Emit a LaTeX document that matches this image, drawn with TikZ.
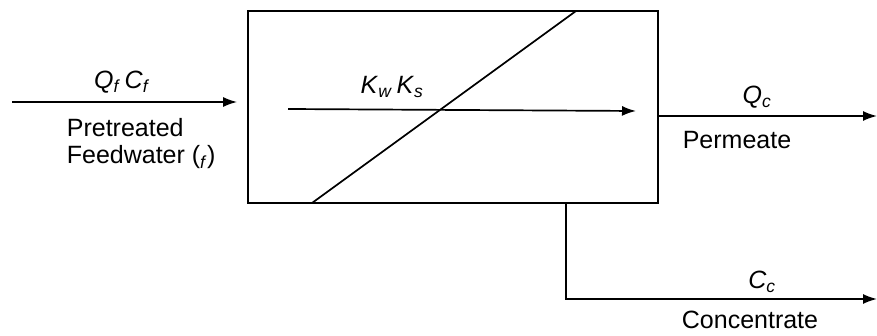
\documentclass[tikz,border=0pt]{standalone}
\usepackage{fontspec}
\setmainfont{Liberation Sans}
\usetikzlibrary{arrows.meta,positioning}
\newcommand{\flowvar}[2]{\textit{#1}\textsubscript{\textit{#2}}}

\begin{document}
\begin{tikzpicture}[x=1pt,y=-1pt,
  line width=1.7pt,
  flow/.style={-{Latex[length=14pt,width=10pt]}},
  lbl/.style={font=\fontsize{25}{27}\selectfont,inner sep=2pt},
  txt/.style={lbl,align=left}]
  \useasboundingbox (0,0) rectangle (877,336);
  % membrane unit
  \node[draw,minimum width=410pt,minimum height=192pt,inner sep=0pt] (unit) at (453,107) {};
  \coordinate (mbot) at (312,203);
  \coordinate (mtop) at (576,11);
  \draw (mbot) -- (mtop);
  % feed
  \coordinate (feedin) at (12,102);
  \draw[flow,shorten >=10pt] (feedin) -- (feedin -| unit.west);
  \node[lbl] (qfcf) at (122,82) {\flowvar{Q}{f}\,\flowvar{C}{f}};
  \node[txt,anchor=north west] (feedtxt) at (64,116) {Pretreated\\Feedwater (\textsubscript{\textit{f}})};
  % transport through membrane
  \coordinate (kin) at (288,109);
  \coordinate (kout) at (636,111);
  \draw[flow] (kin) -- (kout);
  \node[lbl] (kwks) at (392,87) {\flowvar{K}{w}\,\flowvar{K}{s}};
  % permeate
  \coordinate (permout) at (877,116);
  \draw[flow] (permout -| unit.east) -- (permout);
  \node[lbl] (qc) at (757,97) {\flowvar{Q}{c}};
  \node[lbl] (permtxt) at (737,140) {Permeate};
  % concentrate
  \coordinate (tap) at (566,203);
  \coordinate (concout) at (877,299);
  \draw[flow] (tap) |- (concout);
  \node[lbl] (cc) at (762,282) {\flowvar{C}{c}};
  \node[lbl] (conctxt) at (750,320) {Concentrate};
\end{tikzpicture}
\end{document}
